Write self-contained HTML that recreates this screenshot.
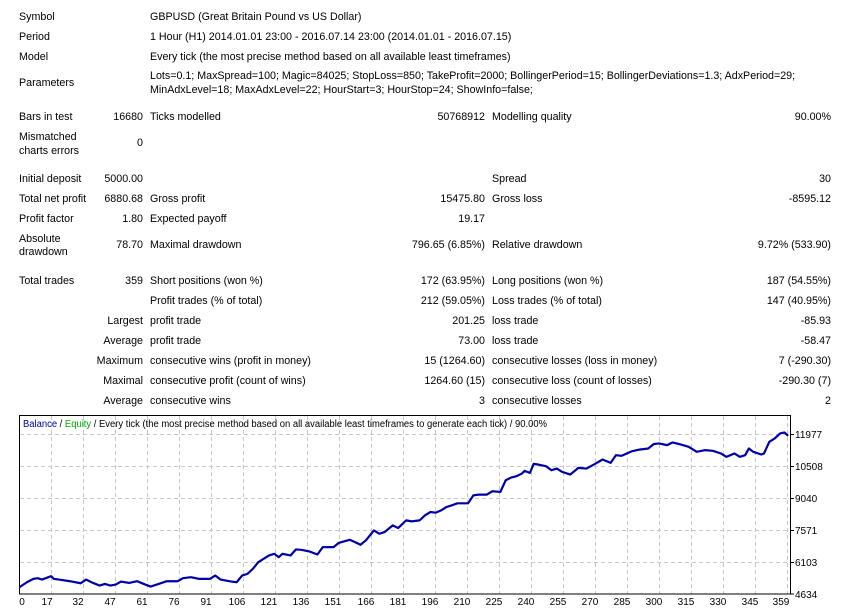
<!DOCTYPE html>
<html><head><meta charset="utf-8"><style>
body{margin:0;width:843px;height:612px;background:#fff;position:relative;overflow:hidden;font-family:"Liberation Sans",sans-serif;font-size:10.7px;color:#000}
.t{position:absolute;white-space:nowrap;line-height:14px}
.r{position:absolute;white-space:nowrap;line-height:14px;text-align:right}
</style></head><body>
<div class="t" style="left:19px;top:10px">Symbol</div>
<div class="t" style="left:150px;top:10px">GBPUSD (Great Britain Pound vs US Dollar)</div>
<div class="t" style="left:19px;top:30px">Period</div>
<div class="t" style="left:150px;top:30px">1 Hour (H1) 2014.01.01 23:00 - 2016.07.14 23:00 (2014.01.01 - 2016.07.15)</div>
<div class="t" style="left:19px;top:50px">Model</div>
<div class="t" style="left:150px;top:50px">Every tick (the most precise method based on all available least timeframes)</div>
<div class="t" style="left:19px;top:76px">Parameters</div>
<div class="t" style="left:150px;top:69px">Lots=0.1; MaxSpread=100; Magic=84025; StopLoss=850; TakeProfit=2000; BollingerPeriod=15; BollingerDeviations=1.3; AdxPeriod=29;</div>
<div class="t" style="left:150px;top:83px">MinAdxLevel=18; MaxAdxLevel=22; HourStart=3; HourStop=24; ShowInfo=false;</div>

<div class="t" style="left:19px;top:110px">Bars in test</div>
<div class="r" style="right:700px;top:110px">16680</div>
<div class="t" style="left:150px;top:110px">Ticks modelled</div>
<div class="r" style="right:358px;top:110px">50768912</div>
<div class="t" style="left:492px;top:110px">Modelling quality</div>
<div class="r" style="right:12px;top:110px">90.00%</div>

<div class="t" style="left:19px;top:130px">Mismatched</div>
<div class="t" style="left:19px;top:144px">charts errors</div>
<div class="r" style="right:700px;top:136px">0</div>

<div class="t" style="left:19px;top:172px">Initial deposit</div>
<div class="r" style="right:700px;top:172px">5000.00</div>
<div class="t" style="left:492px;top:172px">Spread</div>
<div class="r" style="right:12px;top:172px">30</div>

<div class="t" style="left:19px;top:192px">Total net profit</div>
<div class="r" style="right:700px;top:192px">6880.68</div>
<div class="t" style="left:150px;top:192px">Gross profit</div>
<div class="r" style="right:358px;top:192px">15475.80</div>
<div class="t" style="left:492px;top:192px">Gross loss</div>
<div class="r" style="right:12px;top:192px">-8595.12</div>

<div class="t" style="left:19px;top:212px">Profit factor</div>
<div class="r" style="right:700px;top:212px">1.80</div>
<div class="t" style="left:150px;top:212px">Expected payoff</div>
<div class="r" style="right:358px;top:212px">19.17</div>

<div class="t" style="left:19px;top:232px">Absolute</div>
<div class="t" style="left:19px;top:245px">drawdown</div>
<div class="r" style="right:700px;top:238px">78.70</div>
<div class="t" style="left:150px;top:238px">Maximal drawdown</div>
<div class="r" style="right:358px;top:238px">796.65 (6.85%)</div>
<div class="t" style="left:492px;top:238px">Relative drawdown</div>
<div class="r" style="right:12px;top:238px">9.72% (533.90)</div>

<div class="t" style="left:19px;top:274px">Total trades</div>
<div class="r" style="right:700px;top:274px">359</div>
<div class="t" style="left:150px;top:274px">Short positions (won %)</div>
<div class="r" style="right:358px;top:274px">172 (63.95%)</div>
<div class="t" style="left:492px;top:274px">Long positions (won %)</div>
<div class="r" style="right:12px;top:274px">187 (54.55%)</div>

<div class="t" style="left:150px;top:294px">Profit trades (% of total)</div>
<div class="r" style="right:358px;top:294px">212 (59.05%)</div>
<div class="t" style="left:492px;top:294px">Loss trades (% of total)</div>
<div class="r" style="right:12px;top:294px">147 (40.95%)</div>

<div class="r" style="right:700px;top:314px">Largest</div>
<div class="t" style="left:150px;top:314px">profit trade</div>
<div class="r" style="right:358px;top:314px">201.25</div>
<div class="t" style="left:492px;top:314px">loss trade</div>
<div class="r" style="right:12px;top:314px">-85.93</div>

<div class="r" style="right:700px;top:334px">Average</div>
<div class="t" style="left:150px;top:334px">profit trade</div>
<div class="r" style="right:358px;top:334px">73.00</div>
<div class="t" style="left:492px;top:334px">loss trade</div>
<div class="r" style="right:12px;top:334px">-58.47</div>

<div class="r" style="right:700px;top:354px">Maximum</div>
<div class="t" style="left:150px;top:354px">consecutive wins (profit in money)</div>
<div class="r" style="right:358px;top:354px">15 (1264.60)</div>
<div class="t" style="left:492px;top:354px">consecutive losses (loss in money)</div>
<div class="r" style="right:12px;top:354px">7 (-290.30)</div>

<div class="r" style="right:700px;top:374px">Maximal</div>
<div class="t" style="left:150px;top:374px">consecutive profit (count of wins)</div>
<div class="r" style="right:358px;top:374px">1264.60 (15)</div>
<div class="t" style="left:492px;top:374px">consecutive loss (count of losses)</div>
<div class="r" style="right:12px;top:374px">-290.30 (7)</div>

<div class="r" style="right:700px;top:394px">Average</div>
<div class="t" style="left:150px;top:394px">consecutive wins</div>
<div class="r" style="right:358px;top:394px">3</div>
<div class="t" style="left:492px;top:394px">consecutive losses</div>
<div class="r" style="right:12px;top:394px">2</div>

<svg width="843" height="612" style="position:absolute;left:0;top:0" xmlns="http://www.w3.org/2000/svg">
<g stroke="#c8c8c8" stroke-dasharray="4,3" stroke-width="1">
<line x1="20" x2="790" y1="434.5" y2="434.5"/><line x1="20" x2="790" y1="466.5" y2="466.5"/>
<line x1="20" x2="790" y1="498.5" y2="498.5"/><line x1="20" x2="790" y1="530.5" y2="530.5"/>
<line x1="20" x2="790" y1="562.5" y2="562.5"/>
<line x1="51.5" x2="51.5" y1="416" y2="594"/><line x1="83.5" x2="83.5" y1="416" y2="594"/>
<line x1="115.5" x2="115.5" y1="416" y2="594"/><line x1="147.5" x2="147.5" y1="416" y2="594"/>
<line x1="179.5" x2="179.5" y1="416" y2="594"/><line x1="211.5" x2="211.5" y1="416" y2="594"/>
<line x1="243.5" x2="243.5" y1="416" y2="594"/><line x1="275.5" x2="275.5" y1="416" y2="594"/>
<line x1="307.5" x2="307.5" y1="416" y2="594"/><line x1="339.5" x2="339.5" y1="416" y2="594"/>
<line x1="371.5" x2="371.5" y1="416" y2="594"/><line x1="403.5" x2="403.5" y1="416" y2="594"/>
<line x1="435.5" x2="435.5" y1="416" y2="594"/><line x1="467.5" x2="467.5" y1="416" y2="594"/>
<line x1="499.5" x2="499.5" y1="416" y2="594"/><line x1="531.5" x2="531.5" y1="416" y2="594"/>
<line x1="563.5" x2="563.5" y1="416" y2="594"/><line x1="595.5" x2="595.5" y1="416" y2="594"/>
<line x1="627.5" x2="627.5" y1="416" y2="594"/><line x1="659.5" x2="659.5" y1="416" y2="594"/>
<line x1="691.5" x2="691.5" y1="416" y2="594"/><line x1="723.5" x2="723.5" y1="416" y2="594"/>
<line x1="755.5" x2="755.5" y1="416" y2="594"/><line x1="787.5" x2="787.5" y1="416" y2="594"/>
</g>
<rect x="19.5" y="415.5" width="771" height="178.5" fill="none" stroke="#000" stroke-width="1"/>
<g stroke="#000"><line x1="791" x2="794" y1="434.5" y2="434.5"/><line x1="791" x2="794" y1="466.5" y2="466.5"/><line x1="791" x2="794" y1="498.5" y2="498.5"/><line x1="791" x2="794" y1="530.5" y2="530.5"/><line x1="791" x2="794" y1="562.5" y2="562.5"/><line x1="791" x2="794" y1="594" y2="594"/></g>
<g transform="translate(0,405) scale(0.538,0.3344)">
<polyline fill="none" stroke="#0000aa" stroke-linejoin="round" vector-effect="non-scaling-stroke" style="stroke-width:2.2px" points="36,545 50,530 62,520 70,518 78,522 90,515 95,512 100,520 110,522 130,527 150,533 160,522 170,530 185,540 195,535 205,540 215,537 225,528 240,532 255,527 270,537 280,543 295,535 310,527 330,527 340,518 355,515 370,520 390,520 400,510 410,522 420,525 430,528 440,530 450,510 460,505 470,490 480,470 490,460 500,450 510,445 518,455 525,445 540,450 550,432 560,433 575,438 590,447 600,425 620,425 630,412 650,403 660,410 670,418 680,405 695,375 705,385 715,380 730,360 740,368 755,345 765,348 780,345 790,330 800,320 810,322 820,315 830,305 840,300 850,294 870,294 880,270 890,268 905,268 915,258 930,260 940,225 950,217 960,213 970,205 975,197 985,203 992,176 1000,178 1015,183 1025,195 1035,190 1045,200 1060,208 1075,188 1090,190 1105,177 1120,163 1135,173 1145,150 1155,152 1165,145 1175,138 1190,133 1205,130 1215,117 1225,115 1240,120 1250,112 1265,118 1280,125 1295,140 1310,135 1325,137 1340,145 1350,155 1365,145 1375,155 1385,150 1392,130 1400,140 1415,148 1420,145 1430,110 1440,100 1450,85 1458,82 1465,92"/>
</g>
<g font-family="Liberation Sans, sans-serif" font-size="10" fill="#000">
<text x="795" y="438">11977</text><text x="795" y="470">10508</text><text x="795" y="502">9040</text>
<text x="795" y="534">7571</text><text x="795" y="566">6103</text><text x="795" y="598">4634</text>
<g text-anchor="middle">
<text x="22" y="605">0</text><text x="47" y="605">17</text><text x="78" y="605">32</text><text x="110" y="605">47</text>
<text x="142" y="605">61</text><text x="174" y="605">76</text><text x="206" y="605">91</text><text x="237" y="605">106</text>
<text x="269" y="605">121</text><text x="301" y="605">136</text><text x="333" y="605">151</text><text x="366" y="605">166</text>
<text x="398" y="605">181</text><text x="430" y="605">196</text><text x="462" y="605">210</text><text x="494" y="605">225</text>
<text x="526" y="605">240</text><text x="558" y="605">255</text><text x="590" y="605">270</text><text x="622" y="605">285</text>
<text x="654" y="605">300</text><text x="686" y="605">315</text><text x="718" y="605">330</text><text x="750" y="605">345</text>
<text x="781" y="605">359</text></g>
<text x="23" y="427" textLength="524" lengthAdjust="spacingAndGlyphs"><tspan fill="#0000aa">Balance</tspan> / <tspan fill="#00aa00">Equity</tspan> / Every tick (the most precise method based on all available least timeframes to generate each tick) / 90.00%</text>
</g>
</svg>
</body></html>
